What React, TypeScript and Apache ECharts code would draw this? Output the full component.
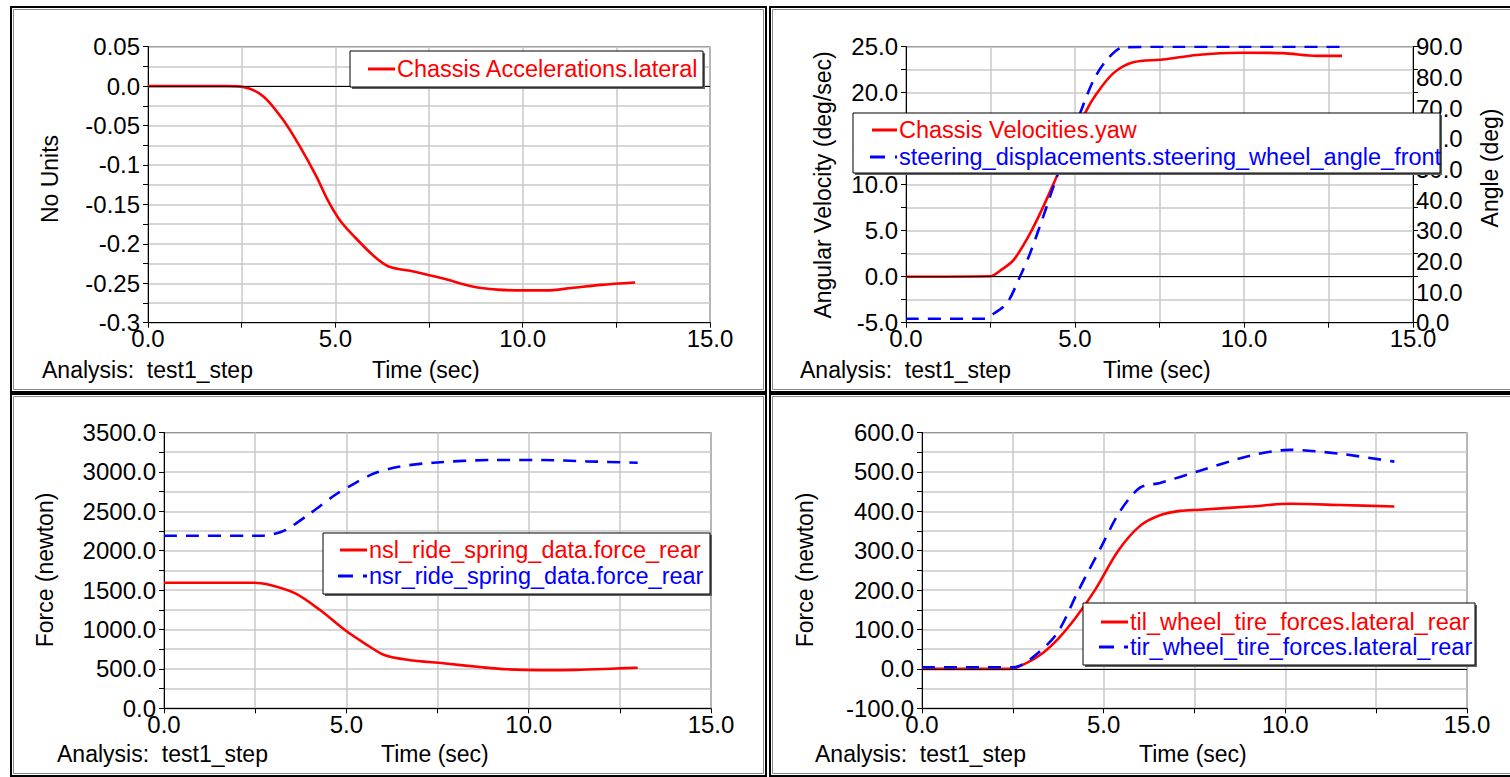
import React, { useEffect, useRef } from 'react';
import * as echarts from 'echarts';

const FONT = "'Liberation Sans', Arial, Helvetica, sans-serif";

// ---- Data (time in sec) ----
const accelT = [0, 2.1, 2.54, 3.08, 3.61, 4.06, 4.5, 4.79, 5.12, 5.51, 6.04, 6.44, 7.09, 7.88, 8.66, 9.32, 10.0, 10.64, 11.3, 12.09, 13.0];
const accelV = [0, 0, -0.001, -0.013, -0.043, -0.077, -0.115, -0.144, -0.17, -0.191, -0.216, -0.229, -0.235, -0.244, -0.254, -0.258, -0.259, -0.259, -0.256, -0.252, -0.249];

const yawT = [0, 2.49, 2.8, 3.18, 3.67, 4.06, 4.46, 4.9, 5.3, 5.64, 6.13, 6.72, 7.6, 8.6, 9.88, 11.15, 12.15, 12.9];
const yawV = [0, 0.05, 0.7, 1.8, 4.7, 7.6, 10.9, 14.5, 17.8, 19.9, 22.1, 23.3, 23.6, 24.1, 24.35, 24.3, 24.0, 24.0];

const steerT = [0, 2.3, 2.49, 2.98, 3.37, 3.67, 4.06, 4.36, 4.75, 5.15, 5.55, 5.94, 6.43, 8.0, 10.0, 12.9];
const steerV = [1.3, 1.3, 2.2, 6.3, 15, 22.6, 34.6, 44.3, 56.5, 68.3, 79.1, 85.7, 89.8, 90, 90, 90];

const nslT = [0, 2.39, 2.8, 3.6, 4.28, 4.96, 5.5, 6.04, 6.71, 7.66, 8.74, 9.41, 10.3, 11.3, 12.39, 12.99];
const nslV = [1594, 1594, 1577, 1459, 1247, 994, 825, 676, 613, 571, 520, 495, 485, 488, 505, 515];

const nsrT = [0, 2.66, 3.0, 3.34, 4.01, 4.69, 5.23, 5.77, 6.44, 7.39, 9.01, 10.36, 11.58, 12.99];
const nsrV = [2190, 2190, 2210, 2263, 2474, 2707, 2855, 2982, 3066, 3117, 3151, 3151, 3134, 3117];

const tilT = [0, 2.42, 2.65, 3.2, 3.7, 4.23, 4.76, 5.4, 6.0, 6.55, 7.1, 7.65, 9.03, 10.13, 11.5, 13.0];
const tilV = [0, 0, 5, 32, 72, 130, 200, 300, 363, 390, 401, 404, 412, 419, 416, 412];

const tirT = [0, 2.5, 2.92, 3.7, 4.3, 4.9, 5.45, 6.0, 6.55, 7.65, 9.03, 10.13, 11.5, 13.0];
const tirV = [4, 4, 20, 88, 198, 304, 400, 460, 472, 503, 541, 556, 546, 526];

const xTicks = { min: 0, max: 15, interval: 2.5 };
const tlY = { min: -0.3, max: 0.05, interval: 0.025 };
const trYL = { min: -5, max: 25, interval: 2.5 };
const trYR = { min: 0, max: 90, interval: 10 };
const blY = { min: 0, max: 3500, interval: 250 };
const brY = { min: -100, max: 600, interval: 50 };

const pair = (t: number[], v: number[]) => t.map((x, i) => [x, v[i]]);

const RED = '#ff0000';
const BLUE = '#0000ff';

const isMult = (v: number, m: number) => Math.abs(v / m - Math.round(v / m)) < 1e-6;

const fmtTL = (v: number) => {
  if (!isMult(v, 0.05)) return '';
  const r = Math.round(v / 0.05) * 0.05;
  if (Math.abs(r) < 1e-9) return '0.0';
  return String(parseFloat(r.toFixed(2)));
};
const fmtEvery = (m: number) => (v: number) => (isMult(v, m) ? v.toFixed(1) : '');

const labelStyle = { color: '#000', fontSize: 24, fontFamily: FONT };

const xAxis = (gridIndex: number) => ({
  type: 'value',
  gridIndex,
  ...xTicks,
  axisLine: { show: true, onZero: false, lineStyle: { color: '#000', width: 1 } },
  axisTick: { show: true, length: 5, lineStyle: { color: '#000' } },
  axisLabel: { ...labelStyle, margin: 4, formatter: fmtEvery(5), showMinLabel: true, showMaxLabel: true },
  splitLine: { show: true, lineStyle: { color: '#c8c8c8', width: 1.5 } },
});

const yAxis = (gridIndex: number, sc: any, fmt: any, extra: any = {}) => ({
  type: 'value',
  gridIndex,
  ...sc,
  axisLine: { show: true, onZero: false, lineStyle: { color: '#000', width: 1 } },
  axisTick: { show: true, length: 5, lineStyle: { color: '#000' } },
  axisLabel: { ...labelStyle, margin: 8, formatter: fmt, showMinLabel: true, showMaxLabel: true },
  splitLine: { show: true, lineStyle: { color: '#c8c8c8', width: 1.5 } },
  ...extra,
});

const zeroLine = {
  silent: true,
  symbol: 'none',
  label: { show: false },
  lineStyle: { color: '#000', width: 1, type: 'solid' },
  data: [{ yAxis: 0 }],
};

const lineSeries = (name: string, xi: number, yi: number, data: any, color: string, dashed: boolean, withZero = false) => ({
  name,
  type: 'line',
  xAxisIndex: xi,
  yAxisIndex: yi,
  data,
  showSymbol: false,
  symbol: 'none',
  smooth: 0.3,
  z: 3,
  lineStyle: { color, width: 2.6, type: dashed ? [13, 9] : 'solid' },
  ...(withZero ? { markLine: zeroLine } : {}),
});

const text = (t: string, x: number, y: number, opt: any = {}) => ({
  type: 'text',
  x,
  y,
  rotation: opt.rot || 0,
  z: 100,
  style: {
    text: t,
    fill: opt.color || '#000',
    fontSize: opt.size || 23,
    fontFamily: FONT,
    align: opt.align || 'left',
    verticalAlign: 'middle',
    textAlign: opt.align || 'left',
    textVerticalAlign: 'middle',
  },
});

const panel = (x1: number, y1: number, x2: number, y2: number) => [
  { type: 'rect', z: 1, shape: { x: x1 + 1, y: y1 + 1, width: x2 - x1 - 2, height: y2 - y1 - 2 }, style: { fill: 'none', stroke: '#000', lineWidth: 2 } },
  { type: 'rect', z: 1, shape: { x: x1 + 3.5, y: y1 + 3.5, width: x2 - x1 - 7, height: y2 - y1 - 7 }, style: { fill: 'none', stroke: '#8a8a8a', lineWidth: 1 } },
];

const legend = (x1: number, y1: number, x2: number, y2: number, entries: { t: string; y: number; color: string; dashed: boolean }[], lx1: number, lx2: number) => {
  const els: any[] = [
    { type: 'rect', z: 90, shape: { x: x1 + 2, y: y1 + 2, width: x2 - x1, height: y2 - y1 }, style: { fill: '#606060' } },
    { type: 'rect', z: 91, shape: { x: x1, y: y1, width: x2 - x1, height: y2 - y1 }, style: { fill: '#fff', stroke: '#000', lineWidth: 1 } },
  ];
  entries.forEach((e) => {
    els.push({
      type: 'line',
      z: 95,
      shape: { x1: e.dashed ? lx1 - 2 : lx1, y1: e.y, x2: lx2, y2: e.y },
      style: { stroke: e.color, lineWidth: 3, lineDash: e.dashed ? [15, 10] : null },
    });
    els.push(text(e.t, lx2 + 2, e.y, { color: e.color, size: 23.5 }));
  });
  return els;
};

export default function App() {
  const ref = useRef<HTMLDivElement>(null);
  useEffect(() => {
    const chart = echarts.init(ref.current!, null, { renderer: 'svg' });
    const option: any = {
      animation: false,
      backgroundColor: '#fff',
      grid: [
        { left: 148, top: 46.7, width: 562, height: 276, show: true, borderColor: '#000', borderWidth: 1, backgroundColor: '#fff' },
        { left: 906, top: 46.7, width: 507, height: 276, show: true, borderColor: '#000', borderWidth: 1, backgroundColor: '#fff' },
        { left: 164, top: 432.5, width: 547, height: 275.8, show: true, borderColor: '#000', borderWidth: 1, backgroundColor: '#fff' },
        { left: 922, top: 432.5, width: 545, height: 275.8, show: true, borderColor: '#000', borderWidth: 1, backgroundColor: '#fff' },
      ],
      xAxis: [xAxis(0), xAxis(1), xAxis(2), xAxis(3)],
      yAxis: [
        yAxis(0, tlY, fmtTL),
        yAxis(1, trYL, fmtEvery(5)),
        yAxis(1, trYR, fmtEvery(10), {
          position: 'right',
          axisTick: { show: false },
          splitLine: { show: false },
          axisLabel: { ...labelStyle, margin: 3, formatter: fmtEvery(10), showMinLabel: true, showMaxLabel: true },
        }),
        yAxis(1, trYL, () => '', {
          position: 'right',
          splitLine: { show: false },
          axisLabel: { show: false },
        }),
        yAxis(2, blY, fmtEvery(500)),
        yAxis(3, brY, fmtEvery(100)),
      ],
      series: [
        lineSeries('Chassis Accelerations.lateral', 0, 0, pair(accelT, accelV), RED, false, true),
        lineSeries('Chassis Velocities.yaw', 1, 1, pair(yawT, yawV), RED, false, true),
        lineSeries('steering_displacements.steering_wheel_angle_front', 1, 2, pair(steerT, steerV), BLUE, true),
        lineSeries('nsl_ride_spring_data.force_rear', 2, 4, pair(nslT, nslV), RED, false),
        lineSeries('nsr_ride_spring_data.force_rear', 2, 4, pair(nsrT, nsrV), BLUE, true),
        lineSeries('til_wheel_tire_forces.lateral_rear', 3, 5, pair(tilT, tilV), RED, false, true),
        lineSeries('tir_wheel_tire_forces.lateral_rear', 3, 5, pair(tirT, tirV), BLUE, true),
      ],
      graphic: [
        ...panel(10, 6, 767, 393),
        ...panel(769, 6, 1516, 393),
        ...panel(10, 393, 767, 777),
        ...panel(769, 393, 1516, 777),
        // axis titles
        text('No Units', 50, 179, { rot: Math.PI / 2, align: 'center' }),
        text('Analysis:  test1_step', 42, 370),
        text('Time (sec)', 372, 370),
        text('Angular Velocity (deg/sec)', 823, 185, { rot: Math.PI / 2, align: 'center' }),
        text('Angle (deg)', 1490, 168, { rot: Math.PI / 2, align: 'center' }),
        text('Analysis:  test1_step', 800, 370),
        text('Time (sec)', 1103, 370),
        text('Force (newton)', 45, 570, { rot: Math.PI / 2, align: 'center' }),
        text('Analysis:  test1_step', 57, 754),
        text('Time (sec)', 381, 754),
        text('Force (newton)', 805, 570, { rot: Math.PI / 2, align: 'center' }),
        text('Analysis:  test1_step', 815, 754),
        text('Time (sec)', 1139, 754),
        // legends
        ...legend(350, 51, 703, 87, [{ t: 'Chassis Accelerations.lateral', y: 69, color: RED, dashed: false }], 368, 395),
        ...legend(853, 113, 1440, 173, [
          { t: 'Chassis Velocities.yaw', y: 130, color: RED, dashed: false },
          { t: 'steering_displacements.steering_wheel_angle_front', y: 157, color: BLUE, dashed: true },
        ], 872, 897),
        ...legend(323, 533, 710, 594, [
          { t: 'nsl_ride_spring_data.force_rear', y: 550, color: RED, dashed: false },
          { t: 'nsr_ride_spring_data.force_rear', y: 576, color: BLUE, dashed: true },
        ], 340, 367),
        ...legend(1083, 603, 1475, 665, [
          { t: 'til_wheel_tire_forces.lateral_rear', y: 622, color: RED, dashed: false },
          { t: 'tir_wheel_tire_forces.lateral_rear', y: 647, color: BLUE, dashed: true },
        ], 1101, 1128),
      ],
    };
    chart.setOption(option);
    return () => chart.dispose();
  }, []);
  return (
    <div
      ref={ref}
      style={{ position: 'absolute', left: 0, top: 0, width: 1510, height: 777, background: '#fff' }}
    />
  );
}
